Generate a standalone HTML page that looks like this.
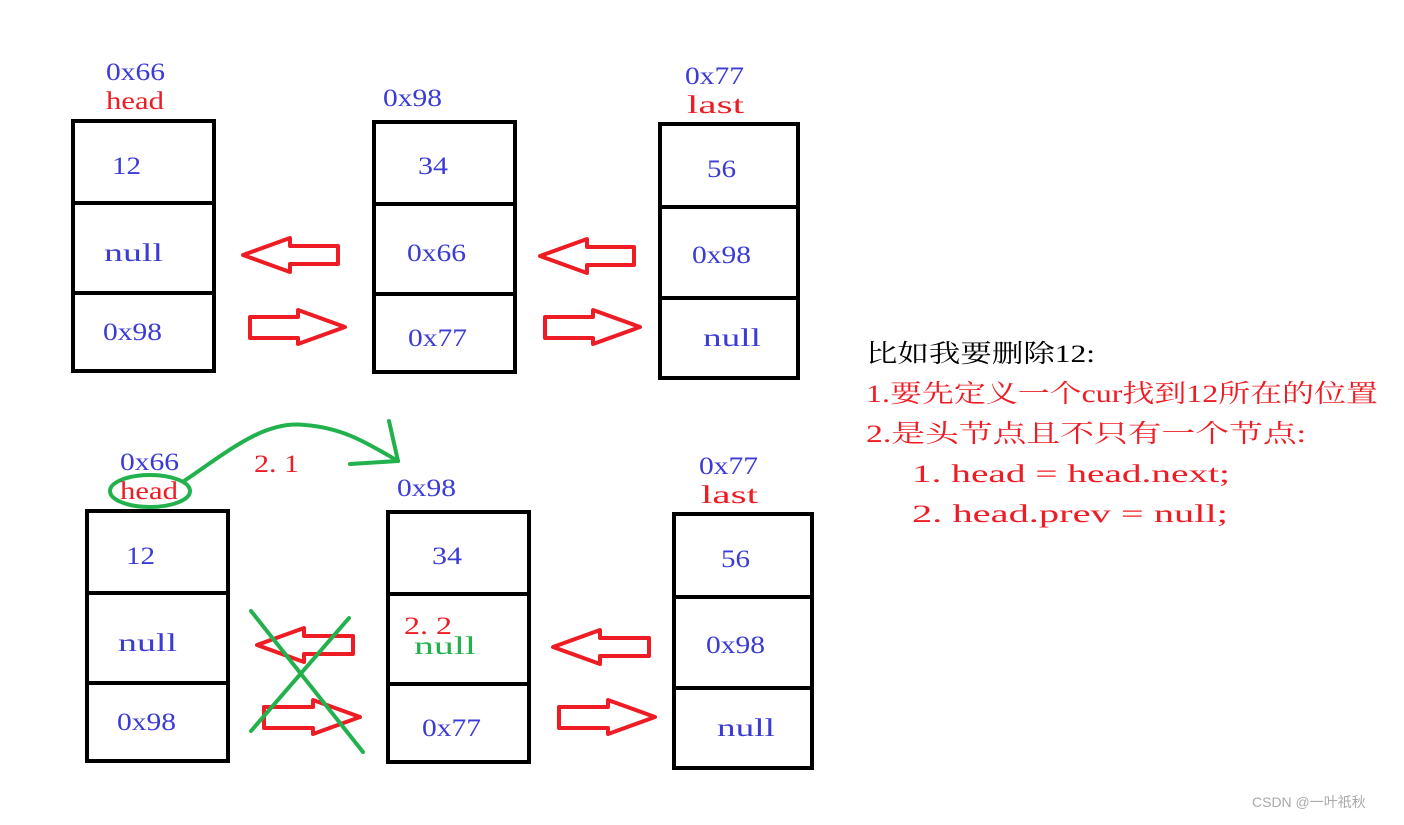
<!DOCTYPE html>
<html><head><meta charset="utf-8"><style>
body{margin:0;background:#fff;width:1404px;height:820px;overflow:hidden}
text{font-family:"Liberation Serif","Noto Serif CJK SC",serif;font-size:25px}
.b{fill:#3b3bd6}.r{fill:#ee1c24}
</style></head><body>
<svg width="1404" height="820" xmlns="http://www.w3.org/2000/svg">
<g fill="none" stroke="#000" stroke-width="4">
<rect x="73" y="121" width="141" height="250"/><line x1="71" y1="203" x2="216" y2="203"/><line x1="71" y1="293" x2="216" y2="293"/>
<rect x="374" y="122" width="141" height="250"/><line x1="372" y1="204" x2="517" y2="204"/><line x1="372" y1="294" x2="517" y2="294"/>
<rect x="660" y="124" width="138" height="254"/><line x1="658" y1="207" x2="800" y2="207"/><line x1="658" y1="298" x2="800" y2="298"/>
<rect x="87" y="511" width="141" height="250"/><line x1="85" y1="593" x2="230" y2="593"/><line x1="85" y1="683" x2="230" y2="683"/>
<rect x="388" y="512" width="141" height="250"/><line x1="386" y1="594" x2="531" y2="594"/><line x1="386" y1="684" x2="531" y2="684"/>
<rect x="674" y="514" width="138" height="254"/><line x1="672" y1="597" x2="814" y2="597"/><line x1="672" y1="688" x2="814" y2="688"/>
</g>
<g fill="none" stroke="#ee1c24" stroke-width="4" stroke-linejoin="round">
<polygon points="243,255 290,238 290,246 338,246 338,264 290,264 290,272"/>
<polygon points="345,327 298,310 298,317 250,317 250,338 298,338 298,344"/>
<polygon points="540,256 587,239 587,247 634,247 634,265 587,265 587,273"/>
<polygon points="640,327 593,310 593,317 545,317 545,338 593,338 593,344"/>
<polygon points="257,645 304,628 304,636 353,636 353,654 304,654 304,662"/>
<polygon points="360,717 313,700 313,707 264,707 264,728 313,728 313,734"/>
<polygon points="553,647 600,630 600,638 649,638 649,656 600,656 600,664"/>
<polygon points="655,717 608,700 608,707 559,707 559,728 608,728 608,734"/>
</g>
<g fill="none" stroke="#22b14c" stroke-width="4" stroke-linecap="round">
<line x1="251" y1="611" x2="363" y2="752"/><line x1="349" y1="618" x2="251" y2="731"/>
<ellipse cx="150" cy="491" rx="40" ry="16"/>
<path d="M184,481 C230,450 265,420 305,425 C345,428 370,445 398,461"/>
<line x1="389" y1="421" x2="398" y2="461"/><line x1="350" y1="464" x2="398" y2="461"/>
</g>
<g lengthAdjust="spacingAndGlyphs">
<text class="b" x="106" y="80" textLength="59" lengthAdjust="spacingAndGlyphs">0x66</text><text class="r" x="106" y="109" textLength="58" lengthAdjust="spacingAndGlyphs">head</text>
<text class="b" x="112" y="174" textLength="29" lengthAdjust="spacingAndGlyphs">12</text><text class="b" x="104" y="261" textLength="59" lengthAdjust="spacingAndGlyphs">null</text><text class="b" x="103" y="340" textLength="59" lengthAdjust="spacingAndGlyphs">0x98</text>
<text class="b" x="383" y="106" textLength="59" lengthAdjust="spacingAndGlyphs">0x98</text>
<text class="b" x="418" y="174" textLength="30" lengthAdjust="spacingAndGlyphs">34</text><text class="b" x="407" y="261" textLength="59" lengthAdjust="spacingAndGlyphs">0x66</text><text class="b" x="408" y="346" textLength="59" lengthAdjust="spacingAndGlyphs">0x77</text>
<text class="b" x="685" y="84" textLength="59" lengthAdjust="spacingAndGlyphs">0x77</text><text class="r" x="687" y="113" textLength="57" lengthAdjust="spacingAndGlyphs">last</text>
<text class="b" x="707" y="177" textLength="29" lengthAdjust="spacingAndGlyphs">56</text><text class="b" x="692" y="263" textLength="59" lengthAdjust="spacingAndGlyphs">0x98</text><text class="b" x="703" y="346" textLength="58" lengthAdjust="spacingAndGlyphs">null</text>
<text class="b" x="120" y="470" textLength="59" lengthAdjust="spacingAndGlyphs">0x66</text><text class="r" x="120" y="499" textLength="58" lengthAdjust="spacingAndGlyphs">head</text>
<text class="r" x="254" y="472" textLength="45" lengthAdjust="spacingAndGlyphs">2. 1</text>
<text class="b" x="126" y="564" textLength="29" lengthAdjust="spacingAndGlyphs">12</text><text class="b" x="118" y="651" textLength="59" lengthAdjust="spacingAndGlyphs">null</text><text class="b" x="117" y="730" textLength="59" lengthAdjust="spacingAndGlyphs">0x98</text>
<text class="b" x="397" y="496" textLength="59" lengthAdjust="spacingAndGlyphs">0x98</text>
<text class="b" x="432" y="564" textLength="30" lengthAdjust="spacingAndGlyphs">34</text><text class="r" x="404" y="634" textLength="48" lengthAdjust="spacingAndGlyphs">2. 2</text><text x="414" y="654" fill="#22b14c" textLength="62" lengthAdjust="spacingAndGlyphs">null</text><text class="b" x="422" y="736" textLength="59" lengthAdjust="spacingAndGlyphs">0x77</text>
<text class="b" x="699" y="474" textLength="59" lengthAdjust="spacingAndGlyphs">0x77</text><text class="r" x="701" y="503" textLength="57" lengthAdjust="spacingAndGlyphs">last</text>
<text class="b" x="721" y="567" textLength="29" lengthAdjust="spacingAndGlyphs">56</text><text class="b" x="706" y="653" textLength="59" lengthAdjust="spacingAndGlyphs">0x98</text><text class="b" x="717" y="736" textLength="58" lengthAdjust="spacingAndGlyphs">null</text>
</g>
<g style="font-size:26px">
<text x="866" y="362" fill="#000" textLength="229" lengthAdjust="spacingAndGlyphs">比如我要删除12:</text>
<text class="r" x="866" y="402" textLength="512" lengthAdjust="spacingAndGlyphs">1.要先定义一个cur找到12所在的位置</text>
<text class="r" x="866" y="442" textLength="440" lengthAdjust="spacingAndGlyphs">2.是头节点且不只有一个节点:</text>
<text class="r" x="912" y="482" xml:space="preserve" textLength="318" lengthAdjust="spacingAndGlyphs">1. head = head.next;</text>
<text class="r" x="912" y="522" xml:space="preserve" textLength="316" lengthAdjust="spacingAndGlyphs">2. head.prev = null;</text>
</g>
<text x="1252" y="807" fill="#aaa" style="font-family:'Liberation Sans','Noto Sans CJK SC',sans-serif;font-size:14px">CSDN @一叶祇秋</text>
</svg>
</body></html>
